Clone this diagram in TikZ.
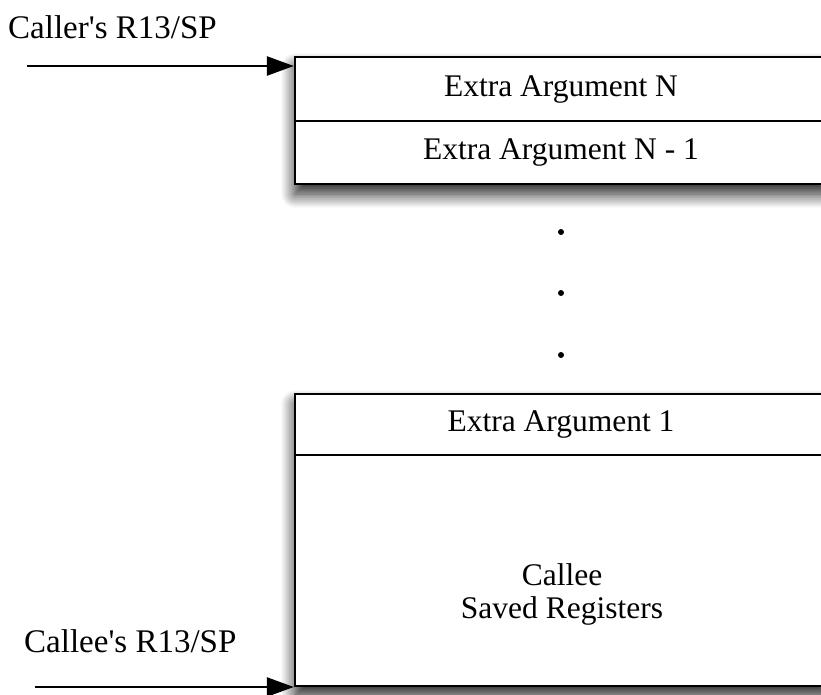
\documentclass[tikz,border=0pt]{standalone}
\usepackage{fontspec}
\setmainfont{Liberation Serif}
\usetikzlibrary{arrows.meta,shadows.blur}
\begin{document}
\begin{tikzpicture}[x=1pt,y=-1pt,
  cell/.style={draw=black,line width=2.2pt,fill=white,minimum width=532pt,inner sep=0pt,font=\fontsize{31.5}{36}\selectfont},
  frame/.style={draw=black,line width=2.4pt,fill=white,inner sep=0pt,minimum width=532pt,
    blur shadow={shadow xshift=0pt,shadow yshift=-10pt,shadow blur radius=14pt,shadow opacity=90,shadow blur steps=20}},
  lbl/.style={font=\fontsize{33}{38}\selectfont,inner sep=0pt,anchor=base west},
  ptr/.style={line width=2.6pt,-{Triangle[length=27pt,width=19pt]}},
  dotmark/.style={circle,fill=black,inner sep=0pt,minimum size=6pt}]
\useasboundingbox (0,0) rectangle (821,694);
\clip (0,0) rectangle (821,694);
% top stack
\node[frame,minimum height=127pt] (topstack) at (561,120.5) {};
\node[cell,minimum height=64pt] (argN) at (561,89) {Extra Argument N};
\node[cell,minimum height=63pt] (argN1) at (561,152.5) {Extra Argument N - 1};
% dots
\node[dotmark] (d1) at (561,232) {};
\node[dotmark] (d2) at (561,293) {};
\node[dotmark] (d3) at (561,355) {};
% bottom stack
\node[frame,minimum height=292pt] (botstack) at (561,540) {};
\node[cell,minimum height=61pt] (arg1) at (561,424.5) {Extra Argument 1};
\node[cell,minimum height=231pt] (saved) at (561,570.5) {};
\node[font=\fontsize{31.5}{33}\selectfont,align=center,inner sep=0pt] (savedtxt) at (562,594) {Callee\\Saved Registers};
% labels and pointers
\node[lbl] (callerlbl) at (8,38) {Caller\textquotesingle s R13/SP};
\node[lbl] (calleelbl) at (24,652) {Callee\textquotesingle s R13/SP};
\coordinate (c1) at (27,66);
\coordinate (c2) at (35,687);
\draw[ptr] (c1) -- (c1 -| topstack.west);
\draw[ptr] (c2) -- (c2 -| botstack.west);
\end{tikzpicture}
\end{document}
